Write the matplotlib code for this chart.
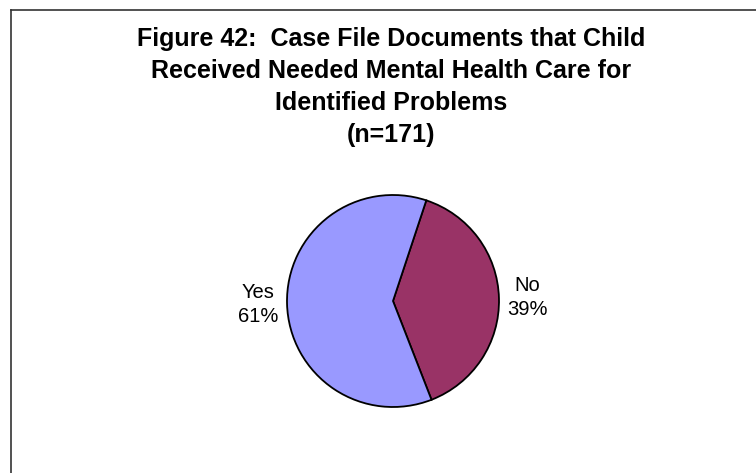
import matplotlib
matplotlib.use("Agg")
import matplotlib.pyplot as plt
from matplotlib.lines import Line2D

# Survey result: case file documents needed mental health care was received
categories = ["No", "Yes"]
percents = [39, 61]
colors = ["#993366", "#9999FF"]
title_lines = [
    "Figure 42:  Case File Documents that Child",
    "Received Needed Mental Health Care for",
    "Identified Problems",
    "(n=171)",
]

W, H, DPI = 756, 473, 100
plt.rcParams["font.family"] = ["Liberation Sans", "DejaVu Sans"]

fig = plt.figure(figsize=(W / DPI, H / DPI), dpi=DPI)
fig.patch.set_facecolor("white")

# Frame lines along the top and left edges
fx, fy = 10.5, 10.0
fig.add_artist(Line2D([fx / W, 1.0], [1 - fy / H, 1 - fy / H],
                      transform=fig.transFigure, color="#333333", lw=1.2))
fig.add_artist(Line2D([fx / W, fx / W], [0.0, 1 - fy / H],
                      transform=fig.transFigure, color="#333333", lw=1.2))

# Title, one line at a time (baseline positions in pixels from the top)
title_baselines = [46, 78, 110, 142]
for line, y in zip(title_lines, title_baselines):
    fig.text(391 / W, 1 - y / H, line, ha="center", va="baseline",
             fontsize=18, fontweight="bold", color="black")

# Pie axes placed so the disc sits at the requested pixel centre/radius
cx, cy, r = 393, 301, 106
ax = fig.add_axes([(cx - r) / W, (H - cy - r) / H, 2 * r / W, 2 * r / H])
start = 90 - 18.3
wedges, texts = ax.pie(
    percents,
    colors=colors,
    startangle=start,
    counterclock=False,
    labels=[f"{c}\n{p}%" for c, p in zip(categories, percents)],
    labeldistance=1.27,
    wedgeprops=dict(edgecolor="black", linewidth=1.3),
    textprops=dict(fontsize=14.5, color="black", linespacing=1.35),
)
for t in texts:
    t.set_ha("center")
    t.set_va("center")
ax.set_xlim(-1, 1)
ax.set_ylim(-1, 1)
ax.set_aspect("equal")
ax.axis("off")

fig.savefig("out.png", dpi=DPI, facecolor="white")
